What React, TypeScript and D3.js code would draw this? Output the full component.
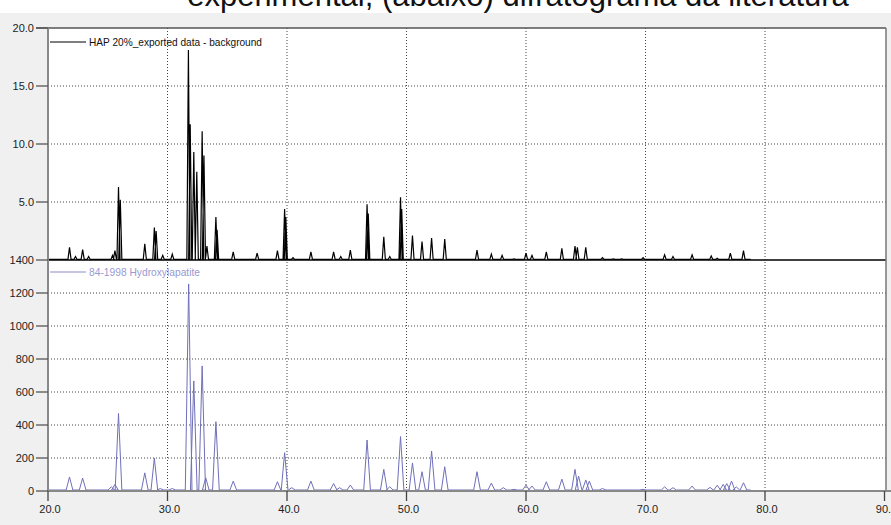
import React from "react";
import * as d3 from "d3";

// ---- Data ----
const title = "experimental, (abaixo) difratograma da literatura";
const upperLegend = "HAP 20%_exported data - background";
const lowerLegend = "84-1998 Hydroxylapatite";

const xTicks = [20, 30, 40, 50, 60, 70, 80, 90];
const xTickLabels = ["20.0", "30.0", "40.0", "50.0", "60.0", "70.0", "80.0", "90.0"];
const upperTicks = [5, 10, 15, 20];
const upperTickLabels = ["5.0", "10.0", "15.0", "20.0"];
const lowerTicks = [0, 200, 400, 600, 800, 1000, 1200, 1400];
const lowerTickLabels = ["0", "200", "400", "600", "800", "1000", "1200", "1400"];

// experimental pattern: peak positions (2θ) and heights
const expPos = [21.8, 22.3, 22.9, 23.4, 25.4, 25.6, 25.9, 26.05, 28.1, 28.9, 29.05, 29.6, 30.4, 31.75, 31.9, 32.2, 32.45, 32.9, 33.05, 33.3, 34.05, 34.15, 35.5, 37.5, 39.2, 39.8, 39.9, 40.5, 42.0, 43.9, 44.5, 45.3, 46.7, 46.8, 48.1, 48.6, 49.5, 49.6, 50.5, 51.3, 52.1, 53.2, 55.9, 57.1, 58.0, 59.0, 60.0, 60.5, 61.7, 63.0, 64.1, 64.3, 65.0, 66.4, 67.3, 68.0, 69.8, 71.6, 72.3, 73.9, 75.5, 76.0, 77.1, 78.2];
const expInt = [1.1, 0.3, 0.9, 0.3, 0.4, 0.8, 6.3, 5.2, 1.4, 2.8, 2.5, 0.4, 0.5, 18.1, 11.7, 9.3, 7.6, 11.1, 9.0, 1.2, 3.7, 2.6, 0.7, 0.6, 0.8, 4.4, 3.7, 0.2, 0.7, 0.7, 0.3, 0.85, 4.8, 4.0, 2.0, 0.3, 5.4, 4.4, 2.1, 1.6, 1.9, 1.8, 0.85, 0.5, 0.4, 0.1, 0.6, 0.4, 0.7, 1.0, 1.2, 1.1, 1.1, 0.2, 0.1, 0.1, 0.2, 0.45, 0.3, 0.45, 0.35, 0.15, 0.6, 0.8];

// literature pattern 84-1998 Hydroxylapatite
const refPos = [21.8, 22.9, 25.3, 25.6, 25.9, 28.1, 28.9, 29.4, 30.4, 31.77, 32.2, 32.9, 33.2, 34.05, 35.5, 39.2, 39.8, 40.4, 42.0, 43.9, 44.4, 45.3, 46.7, 48.1, 48.6, 49.5, 50.5, 51.3, 52.1, 53.2, 55.9, 57.1, 58.1, 59.0, 60.0, 60.5, 61.7, 63.0, 64.1, 64.4, 65.0, 65.3, 66.4, 69.8, 71.6, 72.3, 73.9, 75.4, 76.0, 76.5, 76.8, 77.2, 77.6, 78.2];
const refInt = [85, 78, 25, 40, 470, 110, 200, 15, 15, 1255, 667, 758, 80, 420, 60, 56, 232, 20, 60, 45, 20, 36, 309, 131, 26, 330, 170, 117, 242, 147, 117, 48, 20, 10, 36, 30, 56, 72, 131, 90, 67, 60, 15, 10, 25, 20, 30, 22, 35, 40, 45, 60, 25, 50];

const W = 891;
const H = 525;
const L = 48;
const R = 886;
const TOP = 28;
const MID = 260;
const BOT = 491;

const x = d3.scaleLinear().domain([20, 90]).range([L, 884.5]);
const yU = d3.scaleLinear().domain([0, 20]).range([MID, TOP]);
const yL = d3.scaleLinear().domain([0, 1400]).range([BOT, MID]);

function peakPath(pos: number[], ints: number[], halfW: number, base: number, y: d3.ScaleLinear<number, number>) {
  const pts: [number, number][] = [];
  pts.push([20.0, base]);
  pos.forEach((p, i) => {
    pts.push([p - halfW, base]);
    pts.push([p, ints[i]]);
    pts.push([p + halfW, base]);
  });
  pts.push([pos[pos.length - 1] + 0.6, base]);
  const line = d3.line<[number, number]>().x((d) => x(d[0])).y((d) => y(d[1]));
  return line(pts) || "";
}

export default function App() {
  const font = "'Liberation Sans', Arial, sans-serif";
  return (
    <div style={{ position: "absolute", left: 0, top: 0 }}>
      <svg width={W} height={H} style={{ display: "block" }}>
        <rect x={0} y={0} width={W} height={H} fill="#ffffff" />
        <rect x={0} y={13} width={W} height={H - 13} fill="#f0f0f0" />
        <text x={518} y={6} textAnchor="middle" fontFamily={font} fontSize={31} fill="#111">{title}</text>
        <rect x={L} y={TOP} width={R - L} height={BOT - TOP} fill="#ffffff" />
        {/* vertical grid */}
        {xTicks.slice(1, -1).map((t) => (
          <line key={"vg" + t} x1={x(t)} x2={x(t)} y1={TOP} y2={BOT} stroke="#444" strokeWidth={1} strokeDasharray="1 2" />
        ))}
        {/* horizontal grid upper */}
        {upperTicks.slice(0, -1).map((t) => (
          <line key={"hu" + t} x1={L} x2={R} y1={yU(t)} y2={yU(t)} stroke="#444" strokeWidth={1} strokeDasharray="1 2" />
        ))}
        {lowerTicks.slice(1, -1).map((t) => (
          <line key={"hl" + t} x1={L} x2={R} y1={yL(t)} y2={yL(t)} stroke="#444" strokeWidth={1} strokeDasharray="1 2" />
        ))}
        {/* series */}
        <path d={peakPath(refPos, refInt, 0.28, 6, yL)} fill="none" stroke="#7070ba" strokeWidth={1} strokeLinejoin="round" />
        <path d={peakPath(expPos, expInt, 0.13, 0.05, yU)} fill="none" stroke="#000" strokeWidth={1.2} />
        {/* frame */}
        <line x1={L} x2={R} y1={MID} y2={MID} stroke="#000" strokeWidth={1.5} />
        <line x1={36} x2={R} y1={TOP} y2={TOP} stroke="#555" strokeWidth={1.5} />
        <line x1={R} x2={R} y1={TOP} y2={BOT} stroke="#777" strokeWidth={1.5} />
        <line x1={L} x2={L} y1={TOP} y2={BOT} stroke="#888" strokeWidth={2} />
        <line x1={L} x2={W} y1={BOT} y2={BOT} stroke="#888" strokeWidth={2} />
        {/* y ticks */}
        {upperTicks.map((t, i) => (
          <g key={"ut" + t}>
            <line x1={36} x2={L} y1={yU(t)} y2={yU(t)} stroke="#555" strokeWidth={1.3} />
            <text x={34} y={yU(t) + 4} textAnchor="end" fontFamily={font} fontSize={11} fill="#222">{upperTickLabels[i]}</text>
          </g>
        ))}
        {lowerTicks.map((t, i) => (
          <g key={"lt" + t}>
            <line x1={36} x2={L} y1={yL(t)} y2={yL(t)} stroke="#555" strokeWidth={1.3} />
            <text x={34} y={yL(t) + 4} textAnchor="end" fontFamily={font} fontSize={11} fill="#222">{lowerTickLabels[i]}</text>
          </g>
        ))}
        {/* x ticks */}
        {xTicks.map((t, i) => (
          <g key={"xt" + t}>
            <line x1={x(t)} x2={x(t)} y1={BOT} y2={BOT + 10} stroke="#444" strokeWidth={1.3} />
            <text x={x(t) + 2} y={BOT + 22} textAnchor="middle" fontFamily={font} fontSize={11} fill="#222">{xTickLabels[i]}</text>
          </g>
        ))}
        {/* legends */}
        <line x1={50} x2={86} y1={42} y2={42} stroke="#000" strokeWidth={1.2} />
        <text x={89} y={46} fontFamily={font} fontSize={10.5} fill="#111" textLength={173} lengthAdjust="spacingAndGlyphs">{upperLegend}</text>
        <line x1={50} x2={86} y1={272} y2={272} stroke="#8c8cc8" strokeWidth={1.2} />
        <text x={89} y={276} fontFamily={font} fontSize={11} fill="#9a9ad0" textLength={111} lengthAdjust="spacingAndGlyphs">{lowerLegend}</text>
      </svg>
    </div>
  );
}
